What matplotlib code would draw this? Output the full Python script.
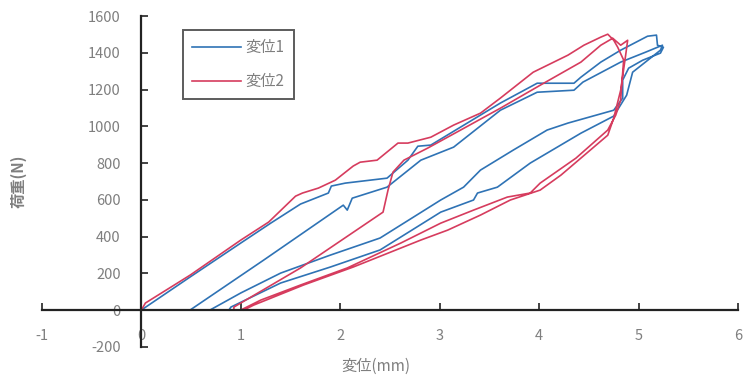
import numpy as np
import matplotlib
matplotlib.use('Agg')
import matplotlib.pyplot as plt

plt.rcParams['font.family'] = ['Noto Sans CJK JP', 'DejaVu Sans']
plt.rcParams['axes.unicode_minus'] = False

# 変位1 (blue)
disp1_x = [0.00, 0.49, 1.00, 1.30, 1.60, 1.88, 1.91, 2.05, 2.47, 2.68, 2.78, 2.91, 3.61, 3.98, 4.35,
           4.42, 4.62, 4.82, 5.09, 5.18, 5.19, 5.25, 5.22, 5.04, 4.90, 4.84, 4.84, 4.75, 4.29, 4.08,
           3.74, 3.41, 3.24, 3.01, 2.40, 1.90, 1.40, 1.00, 0.69, 0.49,
           1.23, 2.03, 2.07, 2.12, 2.47, 2.81, 3.14, 3.61, 3.98, 4.35, 4.44, 4.82, 5.07, 5.24, 5.22,
           4.94, 4.88, 4.75, 4.42, 3.91, 3.58, 3.38, 3.34, 3.01, 2.40, 1.90, 1.40, 0.90, 0.88]
disp1_y = [0, 180, 365, 473, 577, 637, 675, 691, 718, 816, 892, 898, 1127, 1235, 1235,
           1268, 1350, 1415, 1491, 1497, 1442, 1431, 1399, 1360, 1317, 1252, 1154, 1088, 1018, 980,
           871, 762, 669, 599, 392, 299, 201, 93, 0, 0,
           272, 571, 544, 609, 669, 816, 887, 1088, 1186, 1197, 1241, 1350, 1404, 1442, 1415,
           1295, 1170, 1056, 963, 800, 669, 637, 599, 533, 327, 234, 147, 16, 0]

# 変位2 (red)
disp2_x = [0.00, 0.04, 0.49, 1.00, 1.28, 1.55, 1.62, 1.78, 1.95, 2.13, 2.20, 2.37, 2.58, 2.68, 2.91,
           3.14, 3.41, 3.61, 3.94, 4.29, 4.45, 4.62, 4.69, 4.75, 4.79, 4.85, 4.83, 4.82, 4.77, 4.69,
           4.37, 4.01, 3.91, 3.68, 3.34, 3.01, 2.61, 2.07, 1.60, 1.20, 1.00, 0.93,
           0.93, 1.60, 2.43, 2.48, 2.53, 2.64, 2.88, 3.21, 3.61, 4.01, 4.42, 4.62, 4.74, 4.82, 4.89,
           4.87, 4.82, 4.75, 4.69, 4.22, 4.01, 3.71, 3.41, 3.08, 2.81, 2.13, 1.63, 1.13, 1.03]
disp2_y = [0, 38, 190, 381, 479, 620, 637, 664, 707, 784, 805, 816, 909, 909, 941,
           1007, 1072, 1154, 1295, 1388, 1442, 1486, 1502, 1469, 1431, 1361, 1224, 1143, 1061, 980,
           827, 691, 637, 615, 544, 473, 365, 229, 136, 54, 0, 0,
           16, 229, 533, 653, 751, 816, 882, 980, 1099, 1224, 1350, 1442, 1480, 1442, 1469,
           1388, 1197, 1045, 952, 735, 653, 599, 517, 435, 381, 234, 136, 27, 0]

x_ticks = [-1, 0, 1, 2, 3, 4, 5, 6]
y_ticks = [-200, 0, 200, 400, 600, 800, 1000, 1200, 1400, 1600]

fig = plt.figure(figsize=(7.46, 3.83), dpi=100)
ax = fig.add_axes([0.0563, 0.0947, 0.933, 0.863])

ax.plot(disp1_x, disp1_y, color='#2f73b5', lw=1.2, label='変位1')
ax.plot(disp2_x, disp2_y, color='#d63c5e', lw=1.2, label='変位2')

ax.set_xlim(-1, 6)
ax.set_ylim(-200, 1600)
ax.set_xticks(x_ticks)
ax.set_yticks(y_ticks)

ax.spines['left'].set_position(('data', 0))
ax.spines['bottom'].set_position(('data', 0))
ax.spines['top'].set_visible(False)
ax.spines['right'].set_visible(False)
for s in ['left', 'bottom']:
    ax.spines[s].set_color('#222222')
    ax.spines[s].set_linewidth(1.6)

ax.tick_params(axis='both', direction='in', length=5, width=1.2, color='#222222',
               labelcolor='#7f7f7f', labelsize=10.5)
ax.tick_params(axis='y', pad=15)
ax.tick_params(axis='x', pad=14)

ax.set_xlabel('変位(mm)', color='#7f7f7f', fontsize=11)
ax.xaxis.set_label_coords(0.48, -0.035)
ax.set_ylabel('荷重(N)', color='#7f7f7f', fontsize=11, fontweight='bold')
ax.yaxis.set_label_coords(-0.022, 0.5)

leg = ax.legend(loc='upper left', bbox_to_anchor=(0.2026, 0.958), borderaxespad=0,
                fancybox=False, edgecolor='#333333', fontsize=11, labelcolor='#7f7f7f',
                labelspacing=1.1, handlelength=3.2, handletextpad=0.3, borderpad=0.6)
leg.get_frame().set_linewidth(1.4)

fig.savefig('out.png', dpi=100)
